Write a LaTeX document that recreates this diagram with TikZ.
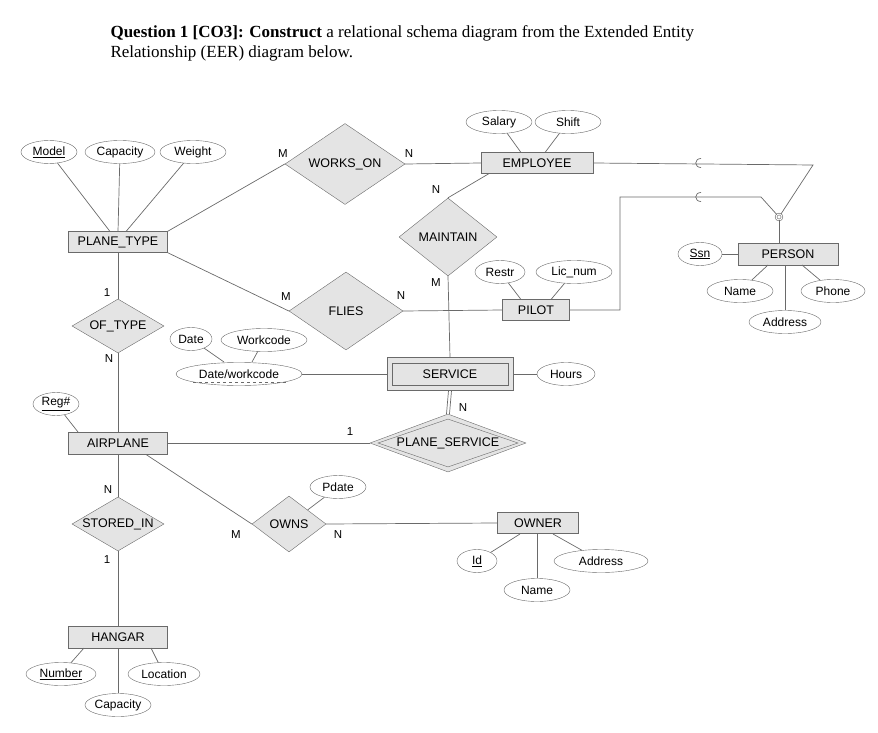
\documentclass[tikz,border=0pt]{standalone}
\usepackage{fontspec}
\setmainfont{Liberation Serif}
\newfontfamily\lsans{Liberation Sans}
\usetikzlibrary{shapes.geometric}
\definecolor{fillg}{HTML}{E4E4E4}
\definecolor{lineg}{HTML}{6A6A6A}
\tikzset{
 ent/.style={draw=lineg,fill=fillg,minimum height=21pt,inner sep=0pt,font=\lsans\fontsize{12.5}{14}\selectfont},
 rel/.style={diamond,draw=lineg,fill=fillg,inner sep=0pt},
 rtext/.style={font=\lsans\fontsize{12.5}{14}\selectfont,inner sep=0pt},
 att/.style={ellipse,draw=lineg,fill=white,minimum height=23pt,inner sep=0pt,font=\lsans\fontsize{12}{13}\selectfont},
 card/.style={font=\lsans\fontsize{11.5}{13}\selectfont},
 ln/.style={draw=lineg,line width=0.7pt}
}
\begin{document}
\begin{tikzpicture}[x=1pt,y=-1pt]
\useasboundingbox (0,0) rectangle (878,733);
\node[anchor=west,align=left,font=\fontsize{17}{20}\selectfont] (title) at (107,43) {\textbf{Question 1 [CO3]: Construct} a relational schema diagram from the Extended Entity\\Relationship (EER) diagram below.};
% entities
\node[ent,minimum width=99pt] (pt) at (118,242) {PLANE\_TYPE};
\node[ent,minimum width=112pt] (emp) at (537,163) {EMPLOYEE};
\node[ent,minimum width=67pt] (pilot) at (536,310) {PILOT};
\node[ent,minimum width=100pt,minimum height=22pt] (person) at (788,254) {PERSON};
\node[ent,minimum width=126pt,minimum height=33pt] (serv) at (450,374) {};
\node[ent,minimum width=116pt,minimum height=22pt] (serv2) at (450,374) {SERVICE};
\node[ent,minimum width=99pt,minimum height=22pt] (air) at (118,443) {AIRPLANE};
\node[ent,minimum width=81pt] (owner) at (538,523) {OWNER};
\node[ent,minimum width=99pt,minimum height=22pt] (hangar) at (118,637) {HANGAR};
% relationships
\node[rel,minimum width=120pt,minimum height=81pt,label={[rtext]center:WORKS\_ON}] (wo) at (345,164) {};
\node[rel,minimum width=98pt,minimum height=78pt,label={[rtext]center:MAINTAIN}] (mt) at (448,237) {};
\node[rel,minimum width=114pt,minimum height=78pt,label={[rtext]center:FLIES}] (fl) at (346,311) {};
\node[rel,minimum width=92pt,minimum height=54pt,label={[rtext]center:OF\_TYPE}] (ot) at (118,326) {};
\node[rel,minimum width=156pt,minimum height=58pt] (ps) at (448,443) {};
\node[rel,minimum width=140pt,minimum height=48pt,label={[rtext]center:PLANE\_SERVICE}] (ps2) at (448,443) {};
\node[rel,minimum width=92pt,minimum height=54pt,label={[rtext]center:STORED\_IN}] (si) at (118,524) {};
\node[rel,minimum width=74pt,minimum height=56pt,label={[rtext]center:OWNS}] (ow) at (289,524) {};
% attributes
\node[att,minimum width=56pt] (model) at (49,152) {\underline{Model}};
\node[att,minimum width=70pt] (cap1) at (120,152) {Capacity};
\node[att,minimum width=66pt] (wt) at (193,152) {Weight};
\node[att,minimum width=66pt] (sal) at (499,122) {Salary};
\node[att,minimum width=66pt] (shift) at (568,122) {Shift};
\node[att,minimum width=50pt] (restr) at (500,272) {Restr};
\node[att,minimum width=76pt] (lic) at (574,272) {Lic\_num};
\node[att,minimum width=44pt] (ssn) at (700,254) {\underline{Ssn}};
\node[att,minimum width=66pt] (pname) at (740,291) {Name};
\node[att,minimum width=64pt] (phone) at (833,291) {Phone};
\node[att,minimum width=72pt] (paddr) at (785,322) {Address};
\node[att,minimum width=42pt] (date) at (191,339) {Date};
\node[att,minimum width=86pt] (wc) at (264,340) {Workcode};
\node[att,minimum width=126pt] (dw) at (239,374) {Date/workcode};
\draw[lineg,dashed,line width=0.6pt] (193,382) -- (287,382);
\node[att,minimum width=58pt] (hours) at (566,374) {Hours};
\node[att,minimum width=46pt] (reg) at (56,404) {\underline{Reg\#}};
\node[att,minimum width=56pt] (pdate) at (338,487) {Pdate};
\node[att,minimum width=40pt] (oid) at (477,561) {\underline{Id}};
\node[att,minimum width=94pt] (oaddr) at (601,561) {Address};
\node[att,minimum width=66pt] (oname) at (537,590) {Name};
\node[att,minimum width=70pt] (num) at (61,674) {\underline{Number}};
\node[att,minimum width=72pt] (loc) at (164,674) {Location};
\node[att,minimum width=66pt] (cap2) at (118,705) {Capacity};
% attribute lines
\draw[ln] (model) -- (110,231.5);
\draw[ln] (cap1) -- (118,231.5);
\draw[ln] (wt) -- (126,231.5);
\draw[ln] (sal) -- (521,152.5);
\draw[ln] (shift) -- (545,152.5);
\draw[ln] (restr) -- (521,299.5);
\draw[ln] (lic) -- (551,299.5);
\draw[ln] (ssn) -- (person.west);
\draw[ln] (pname) -- (768,265);
\draw[ln] (phone) -- (802,265);
\draw[ln] (paddr) -- (785,265);
\draw[ln] (date) -- (224,362);
\draw[ln] (wc) -- (252,362);
\draw[ln] (dw) -- (serv.west);
\draw[ln] (serv.east) -- (hours);
\draw[ln] (reg) -- (78,432);
\draw[ln] (pdate) -- (ow);
\draw[ln] (oid) -- (520,534);
\draw[ln] (oname) -- (537,534);
\draw[ln] (oaddr) -- (553,534);
\draw[ln] (num) -- (84,648);
\draw[ln] (cap2) -- (118,648);
\draw[ln] (loc) -- (151,648);
% relationship lines
\draw[ln] (pt.north east) -- (wo.west);
\draw[ln] (wo.east) -- (emp.west);
\draw[ln] (pt.south east) -- (fl.west);
\draw[ln] (fl.east) -- (pilot.west);
\draw[ln] (emp.south west) ++(8,0) coordinate (ea) -- (mt.north);
\draw[ln] (mt.south) -- (serv.north);
\draw[ln] ([xshift=-1.5pt]serv.south) -- ([xshift=-1.5pt]ps.north);
\draw[ln] ([xshift=1.5pt]serv.south) -- ([xshift=1.5pt]ps.north);
\draw[ln] (pt) -- (ot);
\draw[ln] (ot) -- (air);
\draw[ln] (air.east) -- (ps.west);
\draw[ln] (air) -- (si);
\draw[ln] (si) -- (hangar);
\draw[ln] (146,454.5) -- (ow.west);
\draw[ln] (ow.east) -- (owner.west);
% specialization
\node[circle,draw=lineg,fill=white,double=white,double distance=1pt,minimum size=6pt,inner sep=0pt,line width=0.6pt] (dj) at (779,217) {};
\coordinate (c1) at (813,165);
\coordinate (c2) at (620,310);
\coordinate (c3) at (620,197);
\coordinate (c4) at (761,197);
\draw[ln] (emp.east) -- (c1) -- (dj);
\draw[ln] (pilot.east) -- (c2) -- (c3) -- (c4) -- (dj);
\draw[ln] (dj) -- (person.north -| dj);
\draw[ln] (701,158.5) .. controls (694,158.5) and (694,167.5) .. (701,167.5);
\draw[ln] (701,192.5) .. controls (694,192.5) and (694,201.5) .. (701,201.5);
% cardinalities
\node[card] (c01) at (283,154) {M};
\node[card] (c02) at (409,154) {N};
\node[card] (c03) at (436,190) {N};
\node[card] (c04) at (436,283) {M};
\node[card] (c05) at (286,297) {M};
\node[card] (c06) at (401,296) {N};
\node[card] (c07) at (107,293) {1};
\node[card] (c08) at (109,359) {N};
\node[card] (c09) at (350,432) {1};
\node[card] (c10) at (463,408) {N};
\node[card] (c11) at (108,490) {N};
\node[card] (c12) at (107,560) {1};
\node[card] (c13) at (236,535) {M};
\node[card] (c14) at (338,535) {N};
\end{tikzpicture}
\end{document}
